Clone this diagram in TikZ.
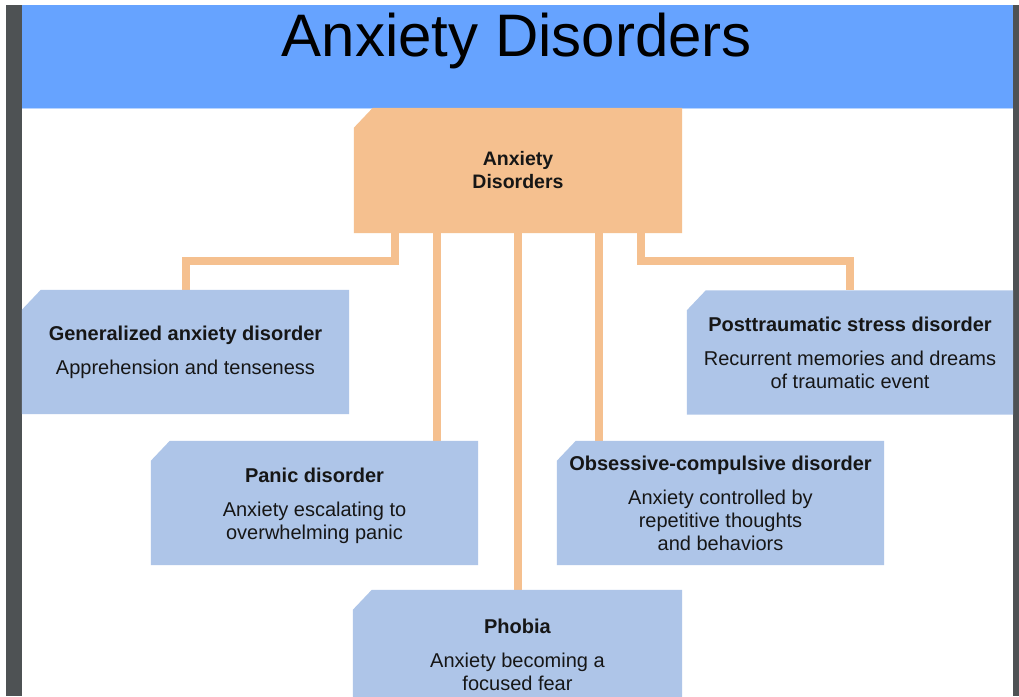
\documentclass[tikz,border=0pt]{standalone}
\usepackage{fontspec}
\setmainfont{Liberation Sans}
\usetikzlibrary{backgrounds}

\definecolor{headblue}{HTML}{66A3FF}
\definecolor{headline}{HTML}{B9D5FF}
\definecolor{cardblue}{HTML}{AEC5E8}
\definecolor{hubpeach}{HTML}{F5C08F}
\definecolor{framegray}{HTML}{4E5254}
\definecolor{ink}{HTML}{161616}

\tikzset{
  card/.style={minimum width=327pt, minimum height=124pt, inner sep=0pt,
    align=center, text=ink, font=\fontsize{20}{23}\selectfont},
  link/.style={draw=hubpeach, line width=8pt},
}

% fill a node's rectangle with its top-left corner cut off
\newcommand\cutcornerfill[2]{%
  \fill[#2] ([yshift=-20pt]#1.north west) -- ([xshift=19pt]#1.north west)
    -- (#1.north east) -- (#1.south east) -- (#1.south west) -- cycle;}

\begin{document}
\begin{tikzpicture}[x=1pt,y=-1pt]
\useasboundingbox (0,0) rectangle (1019,696);
\clip (0,0) rectangle (1019,696);

\node[font=\fontsize{60}{60}\selectfont, text=black, anchor=base] (title) at (517,56) {Anxiety Disorders};

% hub and categories
\node[card, minimum width=328pt, minimum height=125pt, font=\bfseries\fontsize{19.5}{23}\selectfont] (hub) at (518,170.5) {Anxiety\\Disorders};

\node[card] (gad) at (185.5,352)
  {\rule{0pt}{16pt}\textbf{Generalized anxiety disorder}\\[11pt]Apprehension and tenseness};
\node[card, minimum width=326pt] (ptsd) at (850,352.5)
  {\rule{0pt}{16pt}\textbf{Posttraumatic stress disorder}\\[11pt]Recurrent memories and dreams\\of traumatic event};
\node[card] (panic) at (314.5,503)
  {\rule{0pt}{19.5pt}\textbf{Panic disorder}\\[11pt]Anxiety escalating to\\overwhelming panic};
\node[card] (ocd) at (720.5,503)
  {\textbf{Obsessive-compulsive disorder}\\[11pt]Anxiety controlled by\\repetitive thoughts\\and behaviors};
\node[card, minimum width=329pt] (phobia) at (517.5,652)
  {\rule{0pt}{20pt}\textbf{Phobia}\\[11pt]Anxiety becoming a\\focused fear};

\begin{pgfonlayer}{background}
  % page, title band and side frame
  \fill[white] (0,0) rectangle (1019,696);
  \fill[headblue] (22,5) rectangle (1013,108);
  \draw[headline, line width=1pt] (22,108) -- (1013,108);
  \fill[framegray] (6,5) rectangle (22,696);
  \fill[framegray] (1013,5) rectangle (1019,696);
  % connectors from the hub
  \draw[link] ([xshift=-123pt]hub.south) |- ([yshift=29pt]gad.north) -- (gad.north);
  \draw[link] ([xshift=-81pt]hub.south) -- ([xshift=-81pt]hub.south |- panic.north);
  \draw[link] (hub.south) -- (hub.south |- phobia.north);
  \draw[link] ([xshift=81pt]hub.south) -- ([xshift=81pt]hub.south |- ocd.north);
  \draw[link] ([xshift=123pt]hub.south) |- ([yshift=29pt]ptsd.north) -- (ptsd.north);
  % box fills
  \cutcornerfill{hub}{hubpeach}
  \cutcornerfill{gad}{cardblue}
  \cutcornerfill{ptsd}{cardblue}
  \cutcornerfill{panic}{cardblue}
  \cutcornerfill{ocd}{cardblue}
  \cutcornerfill{phobia}{cardblue}
\end{pgfonlayer}
\end{tikzpicture}
\end{document}
